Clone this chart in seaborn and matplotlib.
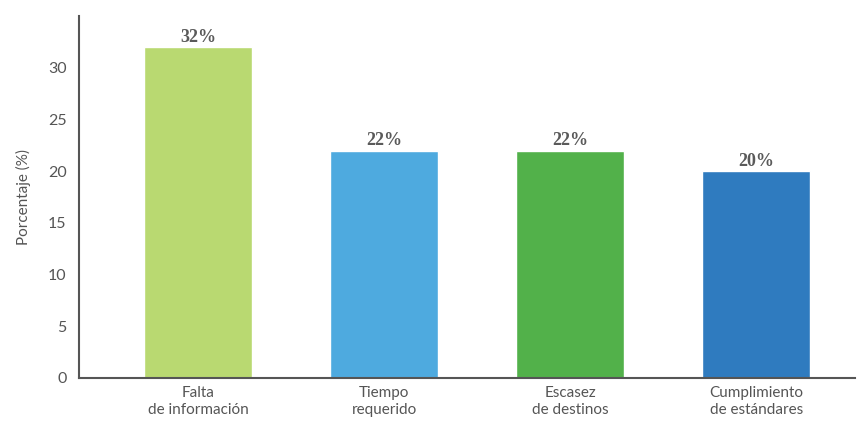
import seaborn as sns
import matplotlib.pyplot as plt
import pandas as pd

categorias = ["Falta\nde información", "Tiempo\nrequerido", "Escasez\nde destinos", "Cumplimiento\nde estándares"]
porcentajes = [32, 22, 22, 20]
etiquetas = ["32%", "22%", "22%", "20%"]
colores = ["#b9d971", "#4eaadf", "#52b14a", "#2f7bbf"]

sns.set_style("white")
plt.rcParams['font.family'] = ['Lato', 'DejaVu Sans']

df = pd.DataFrame({"categoria": categorias, "porcentaje": porcentajes})

fig = plt.figure(figsize=(8.68, 4.25), dpi=100)
ax = fig.add_axes([0.091, 0.1106, 0.894, 0.8514])

sns.barplot(data=df, x="categoria", y="porcentaje", hue="categoria",
            palette=colores, width=0.58, legend=False, ax=ax, saturation=1)

gris = "#555555"
for i, (v, t) in enumerate(zip(porcentajes, etiquetas)):
    ax.text(i, v + 0.15, t, ha="center", va="bottom", fontsize=13,
            fontweight="bold", color="#5a5a5a", family="Liberation Serif")

ax.set_xlim(-0.64, 3.53)
ax.set_ylim(0, 35)
ax.set_yticks([0, 5, 10, 15, 20, 25, 30, 35])
ax.set_yticklabels(["0", "5", "10", "15", "20", "25", "30", ""])
ax.tick_params(axis="y", direction="in", length=12, width=1.5, color=gris,
               labelsize=11.5, labelcolor=gris, pad=9)
ax.tick_params(axis="x", length=0, labelsize=11, labelcolor=gris, pad=6)
ax.set_xlabel("")
ax.set_ylabel("Porcentaje (%)", fontsize=11, color=gris, labelpad=12)

sns.despine(ax=ax)
for s in ["left", "bottom"]:
    ax.spines[s].set_color(gris)
    ax.spines[s].set_linewidth(1.5)

fig.savefig("out.png", dpi=100)
